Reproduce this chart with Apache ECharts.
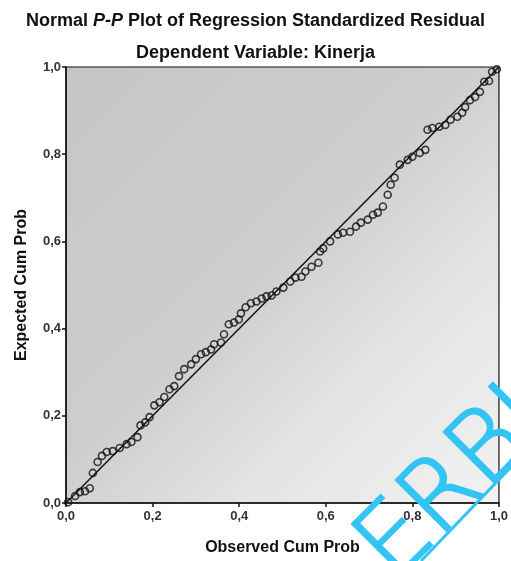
<!DOCTYPE html>
<html>
<head>
<meta charset="utf-8">
<script src="https://cdn.jsdelivr.net/npm/echarts@6/dist/echarts.min.js"></script>
<style>
  html, body { margin: 0; padding: 0; background: #fff; }
  #chart { width: 511px; height: 561px; }
</style>
</head>
<body>
<div id="chart"></div>
<script>
// observed cumulative probability (x) / expected cumulative probability (y)
var observed = [0.005, 0.021, 0.032, 0.044, 0.055, 0.062, 0.073, 0.083, 0.094, 0.108,
  0.124, 0.140, 0.151, 0.165, 0.172, 0.183, 0.193, 0.204, 0.216, 0.227,
  0.239, 0.250, 0.261, 0.273, 0.289, 0.300, 0.312, 0.323, 0.335, 0.342,
  0.358, 0.365, 0.376, 0.388, 0.399, 0.404, 0.415, 0.427, 0.440, 0.452,
  0.463, 0.475, 0.486, 0.502, 0.518, 0.530, 0.544, 0.553, 0.567, 0.583,
  0.587, 0.594, 0.610, 0.628, 0.640, 0.656, 0.670, 0.681, 0.697, 0.709,
  0.720, 0.732, 0.743, 0.750, 0.759, 0.771, 0.789, 0.800, 0.817, 0.830,
  0.835, 0.846, 0.862, 0.876, 0.888, 0.904, 0.915, 0.922, 0.933, 0.945,
  0.956, 0.966, 0.977, 0.984, 0.995];
var expected = [0.002, 0.016, 0.025, 0.027, 0.034, 0.069, 0.094, 0.108, 0.117, 0.119,
  0.126, 0.135, 0.140, 0.151, 0.178, 0.185, 0.197, 0.224, 0.231, 0.243,
  0.261, 0.268, 0.291, 0.307, 0.318, 0.330, 0.341, 0.346, 0.352, 0.364,
  0.368, 0.387, 0.410, 0.414, 0.421, 0.435, 0.449, 0.458, 0.462, 0.469,
  0.474, 0.476, 0.485, 0.494, 0.508, 0.517, 0.519, 0.531, 0.542, 0.551,
  0.577, 0.584, 0.600, 0.616, 0.620, 0.622, 0.634, 0.643, 0.650, 0.661,
  0.666, 0.680, 0.707, 0.730, 0.746, 0.776, 0.787, 0.794, 0.803, 0.810,
  0.856, 0.860, 0.863, 0.867, 0.879, 0.886, 0.895, 0.908, 0.924, 0.931,
  0.943, 0.966, 0.968, 0.989, 0.995];
var refLine = [[0, 0], [1, 1]];

var chart = echarts.init(document.getElementById('chart'));

var points = observed.map(function (v, i) { return [v, expected[i]]; });
var fmt = function (v) { return v.toFixed(1).replace('.', ','); };
var font = '"Liberation Sans", Arial, sans-serif';

var option = {
  backgroundColor: '#ffffff',
  animation: false,
  title: [
    {
      text: 'Normal {i|P-P} Plot of Regression Standardized Residual',
      left: 'center', top: 7,
      textStyle: {
        fontFamily: font, fontSize: 18, fontWeight: 'bold', color: '#111',
        rich: { i: { fontFamily: font, fontSize: 18, fontWeight: 'bold', fontStyle: 'italic', color: '#111' } }
      }
    },
    {
      text: 'Dependent Variable: Kinerja',
      left: 'center', top: 39,
      textStyle: { fontFamily: font, fontSize: 18, fontWeight: 'bold', color: '#111' }
    }
  ],
  grid: {
    left: 66, right: 9, top: 67, bottom: 57,
    show: true,
    borderColor: '#111', borderWidth: 1.2,
    backgroundColor: {
      type: 'linear', x: 0, y: 0, x2: 1, y2: 1,
      colorStops: [
        { offset: 0, color: '#c6c6c6' },
        { offset: 0.45, color: '#cdcdcd' },
        { offset: 0.7, color: '#e4e4e4' },
        { offset: 1, color: '#f2f2f2' }
      ]
    }
  },
  xAxis: {
    type: 'value', min: 0, max: 1, interval: 0.2,
    name: 'Observed Cum Prob', nameLocation: 'middle', nameGap: 37,
    nameTextStyle: { fontFamily: font, fontSize: 16, fontWeight: 'bold', color: '#111' },
    axisLine: { lineStyle: { color: '#111', width: 1.5 } },
    axisTick: { show: true, length: 4, lineStyle: { color: '#111', width: 1.5 } },
    axisLabel: { formatter: fmt, fontFamily: font, fontSize: 13, fontWeight: 'bold', color: '#333', margin: 7 },
    splitLine: { show: false }
  },
  yAxis: {
    type: 'value', min: 0, max: 1, interval: 0.2,
    name: 'Expected Cum Prob', nameLocation: 'middle', nameGap: 36,
    nameTextStyle: { fontFamily: font, fontSize: 16, fontWeight: 'bold', color: '#111' },
    axisLine: { lineStyle: { color: '#111', width: 1.5 } },
    axisTick: { show: true, length: 4, lineStyle: { color: '#111', width: 1.5 } },
    axisLabel: { formatter: fmt, fontFamily: font, fontSize: 13, fontWeight: 'bold', color: '#333', margin: 5 },
    splitLine: { show: false }
  },
  series: [
    {
      type: 'line',
      data: refLine,
      symbol: 'none',
      lineStyle: { color: '#111', width: 1.5 },
      z: 2
    },
    {
      type: 'scatter',
      data: points,
      symbol: 'circle',
      symbolSize: 7,
      itemStyle: { color: 'rgba(0,0,0,0)', borderColor: '#111', borderWidth: 1.6 },
      z: 3
    }
  ],
  graphic: [
    {
      type: 'text',
      x: 455, y: 486,
      rotation: Math.PI / 4,
      style: {
        text: 'ERBI',
        font: '200 98px "DejaVu Sans", sans-serif',
        fill: '#33c4f4',
        stroke: '#33c4f4',
        lineWidth: 2.5,
        align: 'center',
        verticalAlign: 'middle'
      },
      z: 100
    },
    {
      type: 'line',
      shape: { x1: 421, y1: 561, x2: 511, y2: 467 },
      style: { stroke: '#33c4f4', lineWidth: 3 },
      z: 100
    }
  ]
};

chart.setOption(option);
</script>
</body>
</html>
